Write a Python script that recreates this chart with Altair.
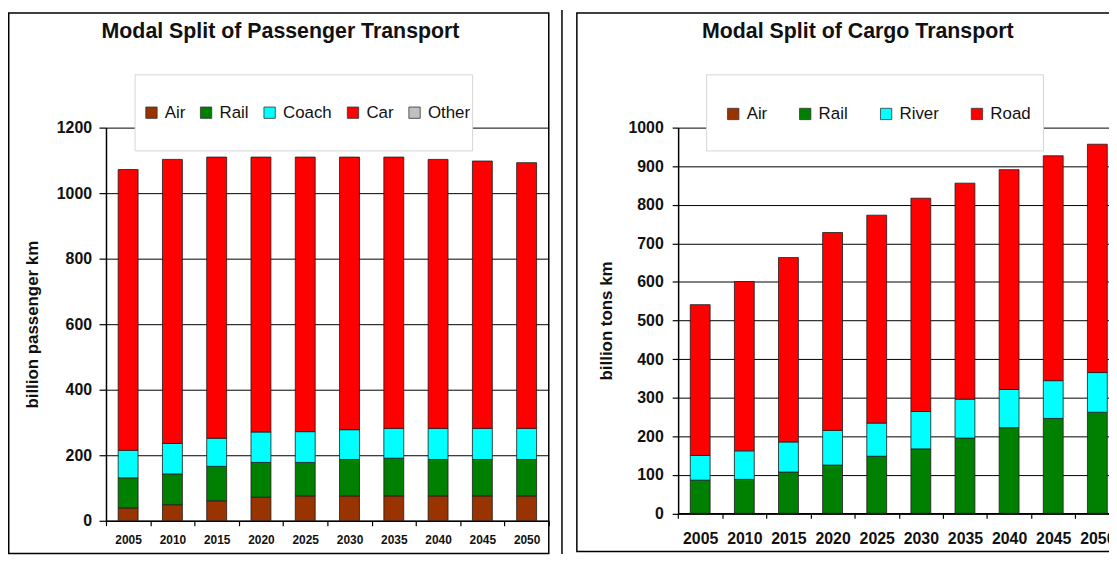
import altair as alt
import pandas as pd

FONT = "Liberation Sans"

years = ["2005", "2010", "2015", "2020", "2025", "2030", "2035", "2040", "2045", "2050"]

# Passenger transport, billion passenger km (stacked from the bottom)
pass_title = "Modal Split of Passenger Transport"
pass_ytitle = "billion passenger km"
pass_modes = ["Air", "Rail", "Coach", "Car", "Other"]
pass_air = [39, 49, 61, 72, 76, 76, 76, 76, 76, 76]
pass_rail = [92, 94, 105, 106, 102, 111, 115, 111, 111, 111]
pass_coach = [84, 93, 86, 93, 94, 91, 91, 95, 95, 95]
pass_car = [857, 867, 858, 839, 838, 832, 828, 821, 816, 811]
pass_other = [0, 0, 0, 0, 0, 0, 0, 0, 0, 0]
pass_colors = ["#993300", "#008000", "#00FFFF", "#FF0000", "#C0C0C0"]
pass_yticks = [0, 200, 400, 600, 800, 1000, 1200]

# Cargo transport, billion tons km
cargo_title = "Modal Split of Cargo Transport"
cargo_ytitle = "billion tons km"
cargo_modes = ["Air", "Rail", "River", "Road"]
cargo_air = [0, 0, 0, 0, 0, 0, 0, 0, 0, 0]
cargo_rail = [86, 88, 107, 125, 148, 167, 195, 222, 246, 262]
cargo_river = [64, 74, 78, 90, 86, 97, 101, 99, 98, 103]
cargo_road = [391, 439, 478, 513, 539, 553, 560, 570, 583, 592]
cargo_colors = ["#993300", "#008000", "#00FFFF", "#FF0000"]
cargo_yticks = [0, 100, 200, 300, 400, 500, 600, 700, 800, 900, 1000]

# Layout (pixels, relative to the passenger plot's top-left corner)
H = 388.5
DX = 576.3  # left edge of the cargo plot


def long_table(modes, series):
    rows = []
    for k, (m, vals) in enumerate(zip(modes, series)):
        for yr, v in zip(years, vals):
            rows.append({"year": yr, "mode": m, "rank": k, "value": v})
    return pd.DataFrame(rows)


def bar_layer(df, modes, colors, ytitle, yticks, g):
    return alt.Chart(df).transform_filter("datum.value > 0").mark_bar(
        width=alt.RelativeBandSize(0.45), stroke="#1a1a1a", strokeWidth=0.8
    ).encode(
        x=alt.X("year:N", sort=years, title=None,
                scale=alt.Scale(range=g["xr"], paddingInner=0, paddingOuter=0),
                axis=alt.Axis(orient="bottom", offset=g["xoff"], tickBand="extent",
                              labelAngle=0, labelFont=FONT,
                              labelFontSize=g["xfs"], labelFontWeight="bold",
                              labelColor="#111", labelPadding=g["xlp"],
                              tickSize=5, tickColor="#000", tickWidth=1.2,
                              domainColor="#000", domainWidth=1.5, grid=False)),
        y=alt.Y("value:Q", stack="zero", title=ytitle,
                scale=alt.Scale(domain=[0, yticks[-1]], nice=False, range=g["yr"]),
                axis=alt.Axis(orient="left", offset=g["yoff"], values=yticks, format="d",
                              grid=True, gridColor="#000", gridWidth=1,
                              labelFont=FONT, labelFontSize=16, labelFontWeight="bold",
                              labelColor="#111", labelPadding=g["ylp"],
                              tickSize=g["yts"], tickColor="#000", tickWidth=1.2,
                              domainColor="#000", domainWidth=1.5,
                              titleFont=FONT, titleFontSize=17, titleFontWeight="bold",
                              titleColor="#111", titlePadding=g["ytp"])),
        color=alt.Color("mode:N", scale=alt.Scale(domain=modes, range=colors),
                        legend=alt.Legend(orient="none", legendX=g["lx"], legendY=g["ly"],
                                          direction="horizontal", title=None,
                                          symbolType="square", symbolSize=130,
                                          symbolStrokeColor="#333", symbolStrokeWidth=0.8,
                                          labelFont=FONT, labelFontSize=17, labelColor="#111",
                                          labelOffset=5, columnPadding=g["cp"], padding=0)),
        order=alt.Order("rank:Q", sort="ascending"),
    )


def deco_layers(title, g):
    one = pd.DataFrame({"t": [title]})
    legend_box = alt.Chart(one).mark_rect(fill="#ffffff", stroke="#d6d6d6", strokeWidth=1).encode(
        x=alt.value(g["bx1"]), x2=alt.value(g["bx2"]),
        y=alt.value(g["by1"]), y2=alt.value(g["by2"]))
    frame = alt.Chart(one).mark_rect(fill="transparent", stroke="#000", strokeWidth=1.5).encode(
        x=alt.value(g["fx1"]), x2=alt.value(g["fx2"]),
        y=alt.value(g["fy1"]), y2=alt.value(g["fy2"]))
    ttl = alt.Chart(one).mark_text(font=FONT, fontSize=21.5, fontWeight="bold", color="#111",
                                    align="center", baseline="alphabetic").encode(
        x=alt.value(g["tx"]), y=alt.value(g["ty"]), text="t:N")
    return [legend_box, frame, ttl]


left_geo = dict(xr=[0, 446], yr=[396, 0], xoff=396 - H, yoff=0,
                xfs=12, xlp=8.5, ylp=7.5, yts=7, ytp=15,
                lx=37.3, ly=-23.8, cp=12,
                bx1=29.3, bx2=369.3, by1=-53.2, by2=23.5,
                fx1=-97.95, fx2=446, fy1=-115.5, fy2=429,
                tx=175.8, ty=-89.8)
right_geo = dict(xr=[DX, DX + 444.5], yr=[H, 0], xoff=0, yoff=-DX,
                 xfs=16, xlp=12, ylp=9, yts=6, ytp=13,
                 lx=DX + 47, ly=-22.5, cp=29.5,
                 bx1=DX + 28.7, bx2=DX + 368, by1=-53.2, by2=23.5,
                 fx1=DX - 102, fx2=DX + 444.5, fy1=-115.5, fy2=427,
                 tx=DX + 181, ty=-89.8)

pass_df = long_table(pass_modes, [pass_air, pass_rail, pass_coach, pass_car, pass_other])
cargo_df = long_table(cargo_modes, [cargo_air, cargo_rail, cargo_river, cargo_road])

sep = alt.Chart(pd.DataFrame({"k": [0]})).mark_rule(color="#000", strokeWidth=1.5).encode(
    x=alt.value(DX - 117), y=alt.value(-118.5), y2=alt.value(429.5))

layers = [
    bar_layer(pass_df, pass_modes, pass_colors, pass_ytitle, pass_yticks, left_geo),
    bar_layer(cargo_df, cargo_modes, cargo_colors, cargo_ytitle, cargo_yticks, right_geo),
] + deco_layers(pass_title, left_geo) + deco_layers(cargo_title, right_geo) + [sep]

chart = alt.layer(*layers).resolve_scale(
    x="independent", y="independent", color="independent"
).properties(
    width=1010.3, height=H,
    autosize=alt.AutoSizeParams(type="none"),
    padding={"left": 98.7, "top": 118.5, "right": 0, "bottom": 41},
    background="#ffffff",
).configure_view(stroke=None)

chart.save("out.html", embed_options={"renderer": "svg", "actions": False})
